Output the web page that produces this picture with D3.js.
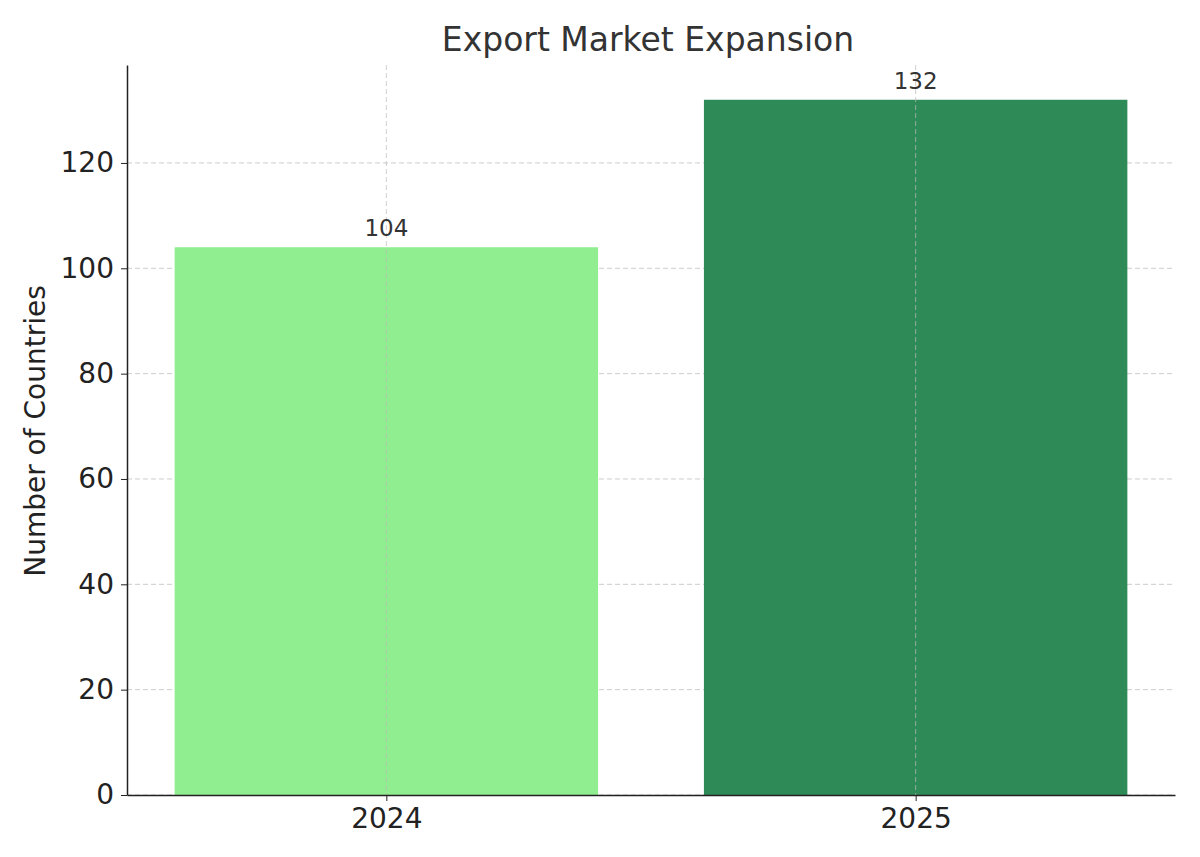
<!DOCTYPE html>
<html>
<head>
<meta charset="utf-8">
<script src="https://cdn.jsdelivr.net/npm/d3@7"></script>
<style>
  body { margin: 0; background: #fff; }
  text { font-family: "DejaVu Sans", sans-serif; }
</style>
</head>
<body>
<div id="chart"></div>
<script>
var years = ["2024", "2025"];
var countries = [104, 132];
var colors = ["#90EE90", "#2E8B57"];
var yTicks = [0, 20, 40, 60, 80, 100, 120];

var W = 1200, H = 857;
var margin = {left: 127, right: 25, top: 65, bottom: 62};
var width = W - margin.left - margin.right;
var height = H - margin.top - margin.bottom;

var svg = d3.select("#chart").append("svg")
  .attr("width", W).attr("height", H)
  .append("g")
  .attr("transform", "translate(" + margin.left + "," + margin.top + ")");

var x = d3.scaleLinear().domain([-0.49, 1.49]).range([0, width]);
var y = d3.scaleLinear().domain([0, 138.6]).range([height, 0]);

// grid
svg.selectAll(".hgrid").data(yTicks).enter().append("line")
  .attr("x1", 0).attr("x2", width)
  .attr("y1", function(d) { return y(d); }).attr("y2", function(d) { return y(d); })
  .attr("stroke", "#ccc").attr("stroke-dasharray", "5,3").attr("stroke-width", 1);

// bars
svg.selectAll(".bar").data(countries).enter().append("rect")
  .attr("x", function(d, i) { return x(i - 0.4); })
  .attr("width", x(0.4) - x(-0.4))
  .attr("y", function(d) { return y(d); })
  .attr("height", function(d) { return height - y(d); })
  .attr("fill", function(d, i) { return colors[i]; });

// vertical grid over bars
svg.selectAll(".vgrid").data(years).enter().append("line")
  .attr("x1", function(d, i) { return x(i); }).attr("x2", function(d, i) { return x(i); })
  .attr("y1", 0).attr("y2", height)
  .attr("stroke", "#bbb").attr("stroke-opacity", 0.7).attr("stroke-dasharray", "5,3");

// value labels
svg.selectAll(".val").data(countries).enter().append("text")
  .attr("x", function(d, i) { return x(i); })
  .attr("y", function(d) { return y(d) - 11; })
  .attr("text-anchor", "middle").attr("font-size", 23).attr("fill", "#333")
  .text(function(d) { return d; });

// axes
var yAxis = d3.axisLeft(y).tickValues(yTicks).tickSize(6).tickSizeOuter(0).tickPadding(7);
var gy = svg.append("g").call(yAxis);
var xAxis = d3.axisBottom(x).tickValues([0, 1]).tickFormat(function(d) { return years[d]; }).tickSize(6).tickSizeOuter(0).tickPadding(7);
var gx = svg.append("g").attr("transform", "translate(0," + height + ")").call(xAxis);
[gy, gx].forEach(function(g) {
  g.selectAll("text").attr("font-size", 28).attr("fill", "#222");
  g.selectAll("line").attr("stroke", "#222");
  g.select(".domain").attr("stroke", "#222").attr("stroke-width", 1.5);
});

svg.append("text")
  .attr("transform", "translate(-82," + (height / 2 + 1) + ") rotate(-90)")
  .attr("text-anchor", "middle").attr("font-size", 28).attr("fill", "#222")
  .text("Number of Countries");

svg.append("text")
  .attr("x", width / 2 - 3).attr("y", -14)
  .attr("text-anchor", "middle").attr("font-size", 33).attr("fill", "#333")
  .text("Export Market Expansion");
</script>
</body>
</html>
